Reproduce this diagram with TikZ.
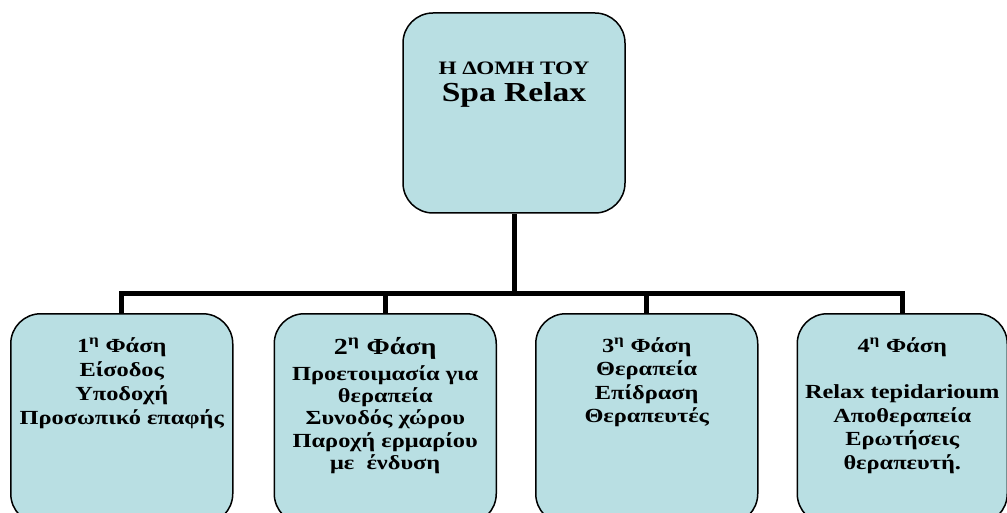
\documentclass[tikz,border=0pt]{standalone}
\usepackage{fontspec}
\setmainfont{Liberation Serif}[FakeStretch=1.22]
\usetikzlibrary{positioning}
\definecolor{boxfill}{RGB}{185,223,227}
\tikzset{
	phasebox/.style={
		rectangle, rounded corners=30pt, draw=black, line width=1.5pt,
		fill=boxfill, minimum width=222pt, minimum height=210pt, inner sep=0pt
	},
	%
	phasetext/.style={
		align=center, inner sep=0pt, font=\bfseries\fontsize{20}{23.5}\selectfont
	},
	%
	bar/.style={line width=5pt}
}

\begin{document}
\begin{tikzpicture}[x=1pt,y=-1pt]
\useasboundingbox (0,0) rectangle (1007,513);
\clip (0,0) rectangle (1007,513);
%boxes
\node (top)[phasebox, minimum height=200pt] at (514,113) {};
\node (b1)[phasebox, anchor=north west] at (10,313) {};
\node (b2)[phasebox, right=40pt of b1] {};
\node (b3)[phasebox, right=38pt of b2] {};
\node (b4)[phasebox, right=38pt of b3, minimum width=210pt] {};

%texts
\node (title)[phasetext, below=49pt of top.north,
  font=\bfseries\fontsize{27.5}{27}\selectfont]
  {{\fontsize{19}{27}\selectfont Η ΔΟΜΗ ΤΟΥ}\\Spa Relax};
\node (t1)[phasetext, below=24pt of b1.north, font=\bfseries\fontsize{20}{24}\selectfont]
  {1\textsuperscript{η} Φάση\\Είσοδος\\Υποδοχή\\Προσωπικό επαφής};
\node (t2)[phasetext, below=24pt of b2.north, font=\bfseries\fontsize{20}{22.2}\selectfont]
  {{\fontsize{23}{22.2}\selectfont 2\textsuperscript{η} Φάση}\\[4pt]Προετοιμασία για\\θεραπεία\\Συνοδός χώρου\\Παροχή ερμαρίου\\με\ \ ένδυση};
\node (t3)[phasetext, below=24pt of b3.north]
  {3\textsuperscript{η} Φάση\\Θεραπεία\\Επίδραση\\Θεραπευτές};
\node (t4)[phasetext, below=24pt of b4.north]
  {4\textsuperscript{η} Φάση\\[23pt]Relax tepidarioum\\Αποθεραπεία\\Ερωτήσεις\\θεραπευτή.};

%lines
\coordinate (bus) at (514,293);
\draw[bar] (top.south) -- (bus);
\draw[bar] (b1.north) |- (bus);
\draw[bar] (b2.north) |- (bus);
\draw[bar] (b3.north) |- (bus);
\draw[bar] (b4.north) |- (bus);
\end{tikzpicture}
\end{document}
